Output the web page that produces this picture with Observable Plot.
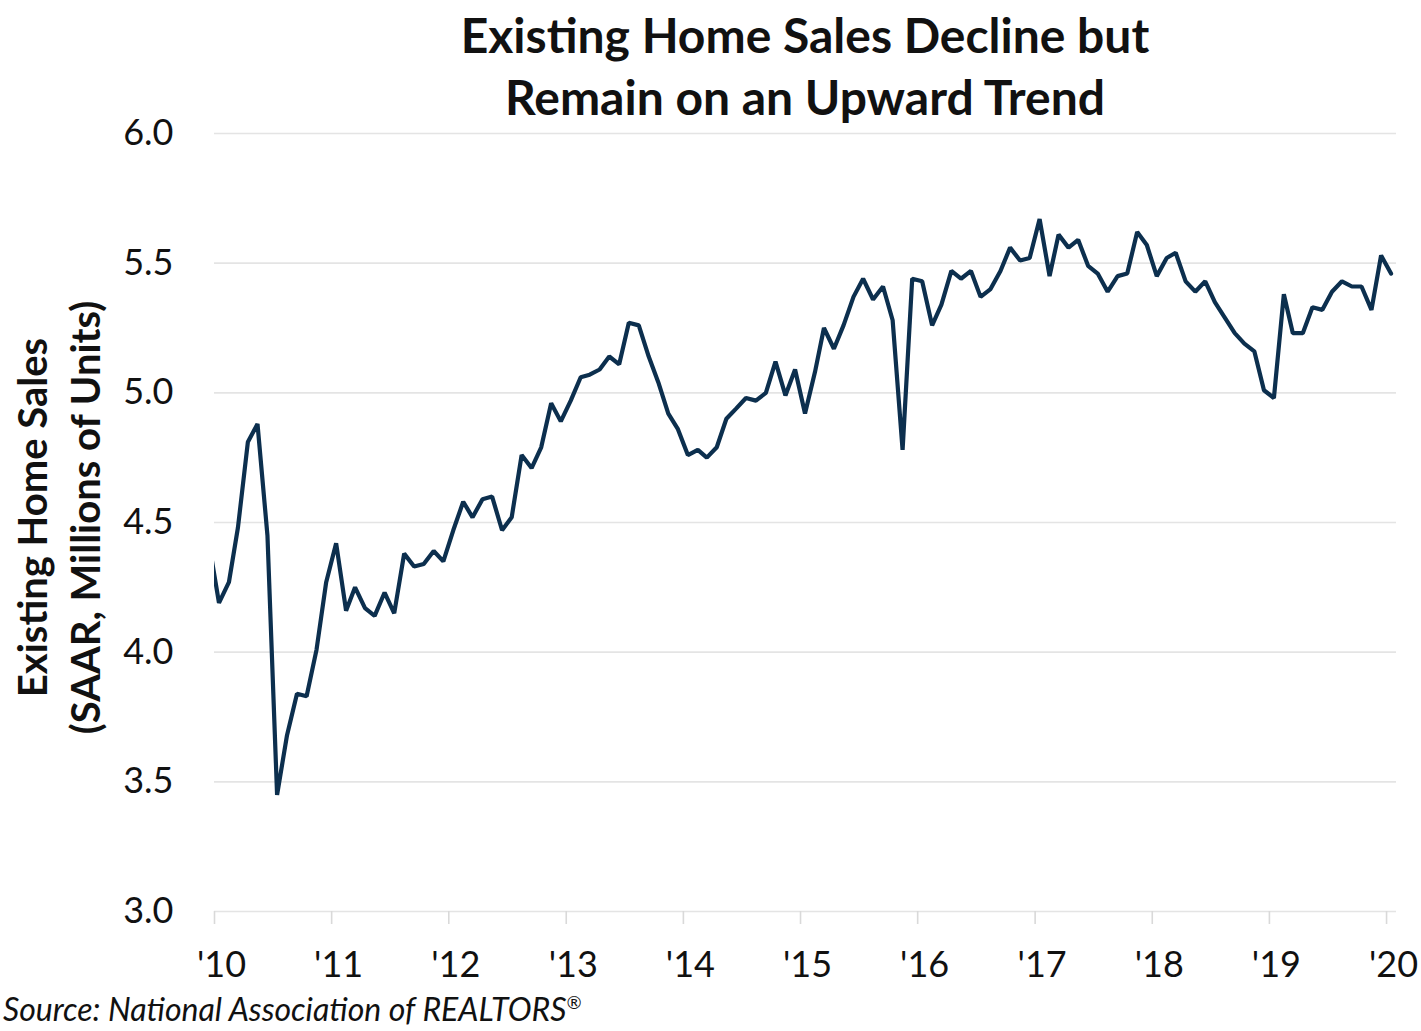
<!DOCTYPE html>
<html><head><meta charset="utf-8">
<script src="https://cdn.jsdelivr.net/npm/d3@7"></script>
<script src="https://cdn.jsdelivr.net/npm/@observablehq/plot@0.6"></script>
<style>
body{margin:0;background:#fff;width:1421px;height:1031px;overflow:hidden;font-family:Lato,"Noto Sans",sans-serif;color:#111;}
#title{height:125px;box-sizing:border-box;padding-top:4px;padding-left:214px;padding-right:25px;text-align:center;font-weight:700;font-size:48px;line-height:62px;}
#chart svg{display:block;}
#caption{font-style:italic;font-size:32px;padding-left:3px;line-height:36px;white-space:nowrap;}
#caption sup{font-size:18px;line-height:0;}
</style></head>
<body>
<div id="title">Existing Home Sales Decline but<br>Remain on an Upward Trend</div>
<div id="chart"></div>
<div id="caption">Source: National Association of REALTORS<sup>®</sup></div>
<script>
// Monthly existing home sales, SAAR, millions of units (Dec 2009 – Jan 2020)
const startYear = 2009, startMonth = 11; // December 2009 (0-based month)
const salesValues = [
  4.42,
  4.19, 4.27, 4.48, 4.81, 4.88, 4.45, 3.45, 3.68, 3.84, 3.83, 4.01, 4.27,
  4.42, 4.16, 4.25, 4.17, 4.14, 4.23, 4.15, 4.38, 4.33, 4.34, 4.39, 4.35,
  4.47, 4.58, 4.52, 4.59, 4.60, 4.47, 4.52, 4.76, 4.71, 4.79, 4.96, 4.89,
  4.97, 5.06, 5.07, 5.09, 5.14, 5.11, 5.27, 5.26, 5.14, 5.04, 4.92, 4.86,
  4.76, 4.78, 4.75, 4.79, 4.90, 4.94, 4.98, 4.97, 5.00, 5.12, 4.99, 5.09,
  4.92, 5.08, 5.25, 5.17, 5.26, 5.37, 5.44, 5.36, 5.41, 5.28, 4.78, 5.44,
  5.43, 5.26, 5.34, 5.47, 5.44, 5.47, 5.37, 5.40, 5.47, 5.56, 5.51, 5.52,
  5.67, 5.45, 5.61, 5.56, 5.59, 5.49, 5.46, 5.39, 5.45, 5.46, 5.62, 5.57,
  5.45, 5.52, 5.54, 5.43, 5.39, 5.43, 5.35, 5.29, 5.23, 5.19, 5.16, 5.01,
  4.98, 5.38, 5.23, 5.23, 5.33, 5.32, 5.39, 5.43, 5.41, 5.41, 5.32, 5.53,
  5.46
];
const yTicks = [3.0, 3.5, 4.0, 4.5, 5.0, 5.5, 6.0];
const tickYears = [2010, 2011, 2012, 2013, 2014, 2015, 2016, 2017, 2018, 2019, 2020];
const tickLabels = ["'10", "'11", "'12", "'13", "'14", "'15", "'16", "'17", "'18", "'19", "'20"];
const yLabel = "Existing Home Sales\n(SAAR, Millions of Units)";

const data = salesValues.map((v, i) => ({
  date: new Date(Date.UTC(startYear, startMonth + i, 15)),
  value: v
}));
const tickDates = tickYears.map(y => new Date(Date.UTC(y, 0, 1)));
const labelOf = new Map(tickDates.map((d, i) => [+d, tickLabels[i]]));

const chart = Plot.plot({
  width: 1421,
  height: 866,
  marginLeft: 214,
  marginRight: 25,
  marginTop: 8,
  marginBottom: 80,
  style: {fontFamily: "Lato, 'Noto Sans', sans-serif", overflow: "visible", background: "transparent", color: "#111"},
  x: {type: "utc", domain: [new Date(Date.UTC(2010, 0, 1)), new Date(Date.UTC(2020, 1, 1))]},
  y: {domain: [3, 6]},
  marks: [
    Plot.gridY(yTicks, {stroke: "#e4e4e4", strokeOpacity: 1, strokeWidth: 1.6}),
    Plot.axisY(yTicks, {tickSize: 0, tickPadding: 41, fontSize: 36, tickFormat: d3.format(".1f"), label: null, fill: "#111"}),
    Plot.axisX(tickDates, {tickSize: 13, stroke: "#d9d9d9", strokeWidth: 1.6, tickFormat: () => "", label: null}),
    Plot.axisX(tickDates, {tickSize: 0, tickPadding: 40, fontSize: 36, fill: "#111", dx: 7,
      tickFormat: d => labelOf.get(+d), label: null}),
    Plot.lineY(data, {x: "date", y: "value", stroke: "#0c2f4e", strokeWidth: 4.2, strokeLinejoin: "miter", clip: true}),
    Plot.text([yLabel], {text: d => d, frameAnchor: "left", textAnchor: "middle", dx: -158, dy: -5, rotate: -90, fontSize: 40, fontWeight: "bold", lineHeight: 1.32, fill: "#111"})
  ]
});
document.getElementById("chart").appendChild(chart);
</script>
</body></html>
